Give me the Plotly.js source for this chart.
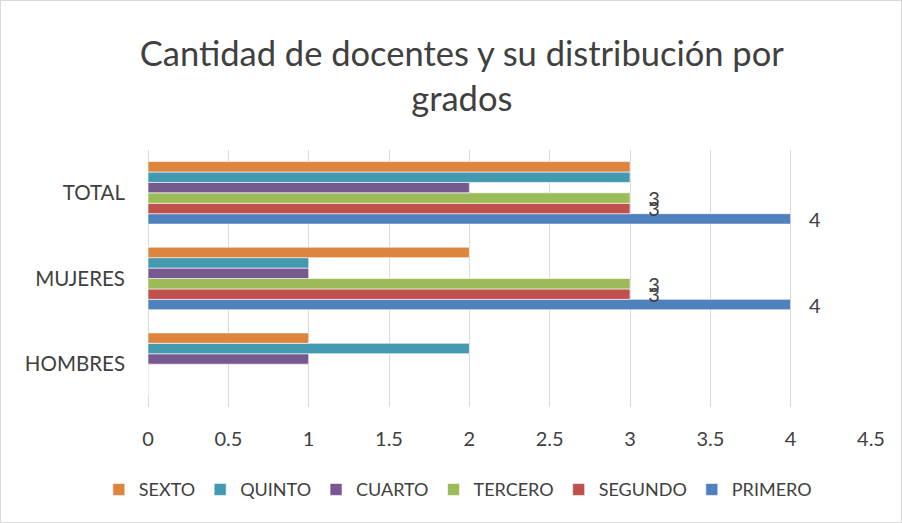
<!DOCTYPE html>
<html>
<head>
<meta charset="utf-8">
<script src="https://cdn.plot.ly/plotly-3.0.1.min.js"></script>
<style>
html,body{margin:0;padding:0;background:#fff;}
#chart{width:900px;height:521px;border:1px solid #d9d9d9;}
</style>
</head>
<body>
<div id="chart"></div>
<script>
const categories = ['HOMBRES', 'MUJERES', 'TOTAL'];
const seriesNames = ['PRIMERO', 'SEGUNDO', 'TERCERO', 'CUARTO', 'QUINTO', 'SEXTO'];
const primero = [0, 4, 4];
const segundo = [0, 3, 3];
const tercero = [0, 3, 3];
const cuarto  = [1, 1, 2];
const quinto  = [2, 1, 3];
const sexto   = [1, 2, 3];
const xTicks = [0, 0.5, 1, 1.5, 2, 2.5, 3, 3.5, 4, 4.5];

const colors = ['#4F81BD', '#C0504D', '#9BBB59', '#765A8F', '#4399B0', '#DD843E'];
const values = [primero, segundo, tercero, cuarto, quinto, sexto];
const labelled = [true, true, true, false, false, false];
const font = 'Lato, "Open Sans", sans-serif';

const traces = values.map((vals, i) => ({
  type: 'bar',
  orientation: 'h',
  name: seriesNames[i],
  y: categories,
  x: vals,
  marker: {color: colors[i], line: {color: '#ffffff', width: 0.6}},
  text: labelled[i] ? vals.map(v => v ? '\u00a0\u00a0\u00a0' + v : '') : undefined,
  textposition: labelled[i] ? 'outside' : 'none',
  textfont: {family: font, size: 20, color: '#404040'},
  constraintext: 'none',
  cliponaxis: false,
  hoverinfo: 'x+name'
}));

const layout = {
  width: 900, height: 521,
  paper_bgcolor: '#ffffff', plot_bgcolor: '#ffffff',
  font: {family: font, color: '#404040'},
  title: {
    text: 'Cantidad de docentes y su distribución por<br>grados',
    font: {family: font, size: 34.5, color: '#404040'},
    x: 0.512, xanchor: 'center', y: 0.875, yanchor: 'top'
  },
  margin: {l: 147, r: 30, t: 149, b: 115},
  barmode: 'group',
  bargap: 0.27,
  bargroupgap: 0,
  xaxis: {
    range: [0, 4.5],
    tickvals: xTicks,
    ticktext: xTicks.map(String),
    showgrid: true, gridcolor: '#d9d9d9', gridwidth: 1,
    zeroline: true, zerolinecolor: '#d9d9d9', zerolinewidth: 1,
    showline: false, ticks: '',
    ticklabelstandoff: 18,
    tickfont: {family: font, size: 20, color: '#404040'}
  },
  yaxis: {
    categoryorder: 'array', categoryarray: categories,
    showgrid: false, zeroline: false, showline: false, ticks: '',
    ticklabelstandoff: 22,
    tickfont: {family: font, size: 20.5, color: '#404040'}
  },
  legend: {
    orientation: 'h', traceorder: 'reversed',
    x: -0.068, xanchor: 'left', y: -0.25, yanchor: 'top',
    font: {family: font, size: 18, color: '#404040'},
    itemwidth: 30
  },
  showlegend: true
};

Plotly.newPlot('chart', traces, layout, {displayModeBar: false, staticPlot: true});
</script>
</body>
</html>
